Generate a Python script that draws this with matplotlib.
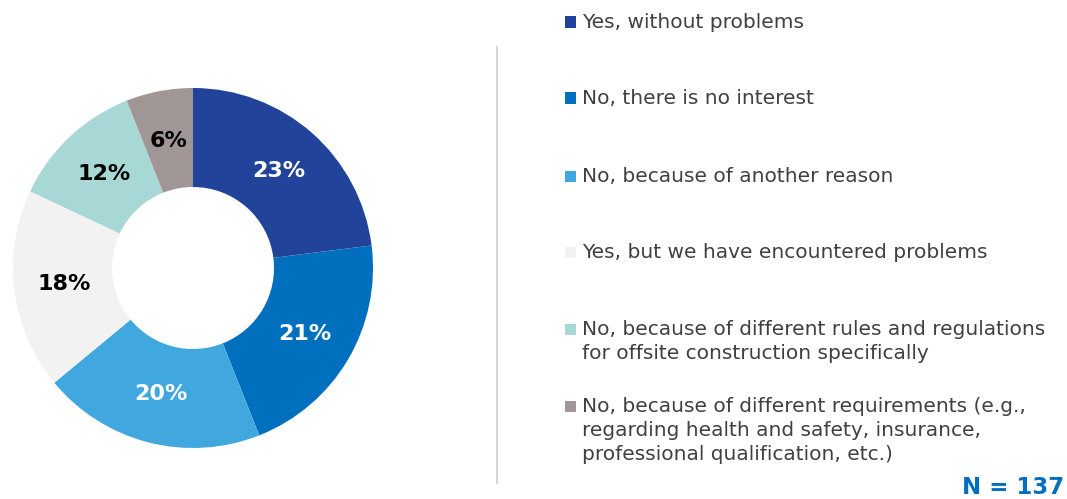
import matplotlib.pyplot as plt
from matplotlib.patches import Rectangle
from matplotlib.lines import Line2D

answers = [
    "Yes, without problems",
    "No, there is no interest",
    "No, because of another reason",
    "Yes, but we have encountered problems",
    "No, because of different rules and regulations\nfor offsite construction specifically",
    "No, because of different requirements (e.g.,\nregarding health and safety, insurance,\nprofessional qualification, etc.)",
]
shares = [23, 21, 20, 18, 12, 6]
colors = ["#21439A", "#0070BE", "#41A8DF", "#F2F2F2", "#A8D8D5", "#A09696"]
label_colors = ["white", "white", "white", "black", "black", "black"]
n_responses = 137

W, H = 1067, 499
fig = plt.figure(figsize=(W / 100, H / 100), dpi=100)

# donut: centre (193, 268) px, outer radius 180 px
cx, cy, r = 193, 268, 180
ax = fig.add_axes([(cx - r) / W, (H - cy - r) / H, 2 * r / W, 2 * r / H])
wedges, texts, autotexts = ax.pie(
    shares, colors=colors, startangle=90, counterclock=False,
    radius=1, wedgeprops=dict(width=0.55, linewidth=0),
    autopct=lambda p: f"{p:.0f}%", pctdistance=0.72,
    textprops=dict(fontsize=16, fontweight="bold"))
for t, c in zip(autotexts, label_colors):
    t.set_color(c)
ax.set_xlim(-1, 1)
ax.set_ylim(-1, 1)
ax.set_aspect("equal")
ax.axis("off")

# divider between chart and legend
fig.add_artist(Line2D([497 / W, 497 / W], [1 - 47 / H, 1 - 483 / H],
                      color="#D0D0D0", linewidth=1.2))

# legend drawn by hand
row_y = [22, 98, 176, 252, 329, 406]
sq = 11
for label, col, y in zip(answers, colors, row_y):
    fig.add_artist(Rectangle((565 / W, 1 - (y + sq / 2) / H), sq / W, sq / H,
                             facecolor=col, edgecolor="none"))
    fig.text(582 / W, 1 - (y - 9) / H, label, fontsize=14.5, color="#404040",
             va="top", ha="left", linespacing=1.32)

fig.text(1064 / W, 1 - 487 / H, f"N = {n_responses}", fontsize=16.5,
         fontweight="bold", color="#0070BE", ha="right", va="center")

fig.savefig("out.png", dpi=100)
